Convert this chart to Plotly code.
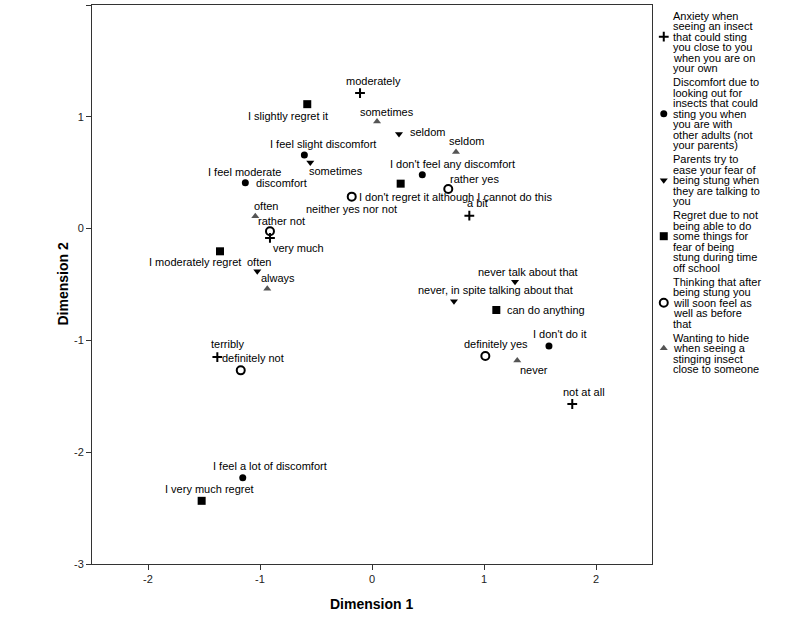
import plotly.graph_objects as go

# ---------------- data ----------------
series_names = [
    "Anxiety when<br>seeing an insect<br>that could sting<br>you close to you<br>when you are on<br>your own",
    "Discomfort due to<br>looking out for<br>insects that could<br>sting you when<br>you are with<br>other adults (not<br>your parents)",
    "Parents try to<br>ease your fear of<br>being stung when<br>they are talking to<br>you",
    "Regret due to not<br>being able to do<br>some things for<br>fear of being<br>stung during time<br>off school",
    "Thinking that after<br>being stung you<br>will soon feel as<br>well as before<br>that",
    "Wanting to hide<br>when seeing a<br>stinging insect<br>close to someone",
]

anxiety_labels = ["moderately", "a bit", "very much", "terribly", "not at all"]
anxiety_dim1 = [-0.107, 0.869, -0.911, -1.381, 1.788]
anxiety_dim2 = [1.212, 0.116, -0.083, -1.149, -1.569]

discomfort_labels = ["I feel slight discomfort", "I feel moderate<br>discomfort",
                     "I don't feel any discomfort", "I feel a lot of discomfort", "I don't do it"]
discomfort_dim1 = [-0.604, -1.131, 0.449, -1.154, 1.580]
discomfort_dim2 = [0.658, 0.411, 0.482, -2.229, -1.051]

parents_labels = ["seldom", "sometimes", "often", "never talk about that",
                  "never, in spite talking about that"]
parents_dim1 = [0.241, -0.551, -1.024, 1.277, 0.732]
parents_dim2 = [0.846, 0.592, -0.381, -0.476, -0.649]

regret_labels = ["I slightly regret it", "I don't regret it although I cannot do this",
                 "I moderately regret", "can do anything", "I very much regret"]
regret_dim1 = [-0.578, 0.256, -1.357, 1.110, -1.521]
regret_dim2 = [1.113, 0.402, -0.203, -0.728, -2.435]

thinking_labels = ["neither yes nor not", "rather yes", "rather not", "definitely yes", "definitely not"]
thinking_dim1 = [-0.181, 0.681, -0.911, 1.012, -1.172]
thinking_dim2 = [0.286, 0.354, -0.024, -1.140, -1.268]

hide_labels = ["sometimes", "seldom", "often", "always", "never"]
hide_dim1 = [0.045, 0.750, -1.042, -0.935, 1.297]
hide_dim2 = [0.958, 0.685, 0.110, -0.538, -1.179]

x_ticks = [-2, -1, 0, 1, 2]
x_tick_labels = ["-2", "-1", "0", "1", "2"]
y_ticks = [-3, -2, -1, 0, 1, 2]
y_tick_labels = ["-3", "-2", "-1", "0", "1", "2"]

# ---------------- styles / label placement (pixels) ----------------
FONT = "Liberation Sans, Arial, sans-serif"
marker_styles = [
    dict(symbol="cross-thin", size=7, color="black", line=dict(width=2, color="black")),
    dict(symbol="circle", size=7, color="black"),
    dict(symbol="triangle-down", size=7, color="black"),
    dict(symbol="square", size=8, color="black"),
    dict(symbol="circle-open", size=8, color="black", line=dict(width=2, color="black")),
    dict(symbol="triangle-up", size=7, color="#555555"),
]
# per label: list of (dx, dy, anchor) per text line (dy positive = down)
label_offsets = [
    [[(13, -12, "c")], [(8, -13, "c")], [(29, 10, "c")], [(11, -13, "c")], [(12, -12, "c")]],
    [[(19, -11, "c")], [(-1, -11, "c"), (9, 0, "l")], [(30, -11, "c")], [(27, -12, "c")], [(11, -12, "c")]],
    [[(9, -2, "l")], [(26, 9, "c")], [(2, -9, "c")], [(13, -10, "c")], [(42, -11, "c")]],
    [[(-19, 12, "c")], [(55, 13, "c")], [(-25, 11, "c")], [(9, 0, "l")], [(8, -12, "c")]],
    [[(0, 12, "c")], [(26, -10, "c")], [(12, -10, "c")], [(11, -12, "c")], [(12, -12, "c")]],
    [[(10, -10, "c")], [(10, -11, "c")], [(11, -10, "c")], [(11, -11, "c")], [(17, 10, "c")]],
]

series = [
    (anxiety_dim1, anxiety_dim2, anxiety_labels),
    (discomfort_dim1, discomfort_dim2, discomfort_labels),
    (parents_dim1, parents_dim2, parents_labels),
    (regret_dim1, regret_dim2, regret_labels),
    (thinking_dim1, thinking_dim2, thinking_labels),
    (hide_dim1, hide_dim2, hide_labels),
]

W, H = 810, 628
L, R, T, B = 92, 0, 5, 64
plot_w = W - L - R
main_w = 560

fig = go.Figure()
annotations = []

for i, (xs, ys, labs) in enumerate(series):
    fig.add_trace(go.Scatter(
        x=xs, y=ys, mode="markers", marker=marker_styles[i],
        name=series_names[i], showlegend=False, hoverinfo="text", text=labs,
        xaxis="x", yaxis="y"))
    for j, lab in enumerate(labs):
        lines = lab.split("<br>")
        for k, line in enumerate(lines):
            dx, dy, anc = label_offsets[i][j][k]
            annotations.append(dict(
                x=xs[j], y=ys[j], xref="x", yref="y", text=line, showarrow=False,
                xshift=dx, yshift=-dy, xanchor="center" if anc == "c" else "left",
                yanchor="middle", font=dict(family=FONT, size=11, color="black")))

# ---------------- manual legend (pixel coordinates on hidden axes) ----------------
line_step = 10.5
entry_gap = 14
y_cur = 15.7
leg_marker_x = 663.7
leg_text_x = 671
for i, name in enumerate(series_names):
    lines = name.split("<br>")
    for k, line in enumerate(lines):
        annotations.append(dict(
            x=leg_text_x, y=y_cur + k * line_step, xref="x2", yref="y2", text=line,
            showarrow=False, xanchor="left", yanchor="middle",
            font=dict(family=FONT, size=11, color="black")))
    my = y_cur + ((len(lines) - 1) // 2) * line_step
    fig.add_trace(go.Scatter(
        x=[leg_marker_x], y=[my], mode="markers", marker=marker_styles[i],
        showlegend=False, hoverinfo="skip", xaxis="x2", yaxis="y2"))
    y_cur += (len(lines) - 1) * line_step + entry_gap

# axis titles
annotations.append(dict(
    x=(371 - L) / plot_w, y=(H - B - 604) / (H - T - B), xref="paper", yref="paper",
    text="<b>Dimension 1</b>", showarrow=False, xanchor="center", yanchor="middle",
    font=dict(family=FONT, size=14, color="black")))
annotations.append(dict(
    x=(62 - L) / plot_w, y=(H - B - 284.5) / (H - T - B), xref="paper", yref="paper",
    text="<b>Dimension 2</b>", showarrow=False, xanchor="center", yanchor="middle",
    textangle=-90, font=dict(family=FONT, size=14, color="black")))

axis_common = dict(
    showgrid=False, zeroline=False, showline=True, mirror=True, linecolor="#333333",
    linewidth=1, ticks="outside", ticklen=5, tickcolor="#333333",
    tickfont=dict(family=FONT, size=11, color="#222222"))

fig.update_layout(
    width=W, height=H,
    margin=dict(l=L, r=R, t=T, b=B, autoexpand=False),
    paper_bgcolor="white", plot_bgcolor="white",
    xaxis=dict(domain=[0, main_w / plot_w], range=[-2.5, 2.5], tickvals=x_ticks,
               ticktext=x_tick_labels, anchor="y", **axis_common),
    yaxis=dict(domain=[0, 1], range=[-3, 2], tickvals=y_ticks, ticktext=y_tick_labels,
               anchor="x", **axis_common),
    xaxis2=dict(domain=[main_w / plot_w + 0.0001, 1], range=[L + main_w, W], visible=False,
                anchor="y2", fixedrange=True),
    yaxis2=dict(domain=[0, 1], range=[H - B, T], visible=False, anchor="x2", fixedrange=True),
    annotations=annotations,
    showlegend=False,
    font=dict(family=FONT),
)

fig.write_html("out.html", config={"displayModeBar": False},
               post_script="document.body.style.margin='0px';document.body.style.overflow='hidden';")
